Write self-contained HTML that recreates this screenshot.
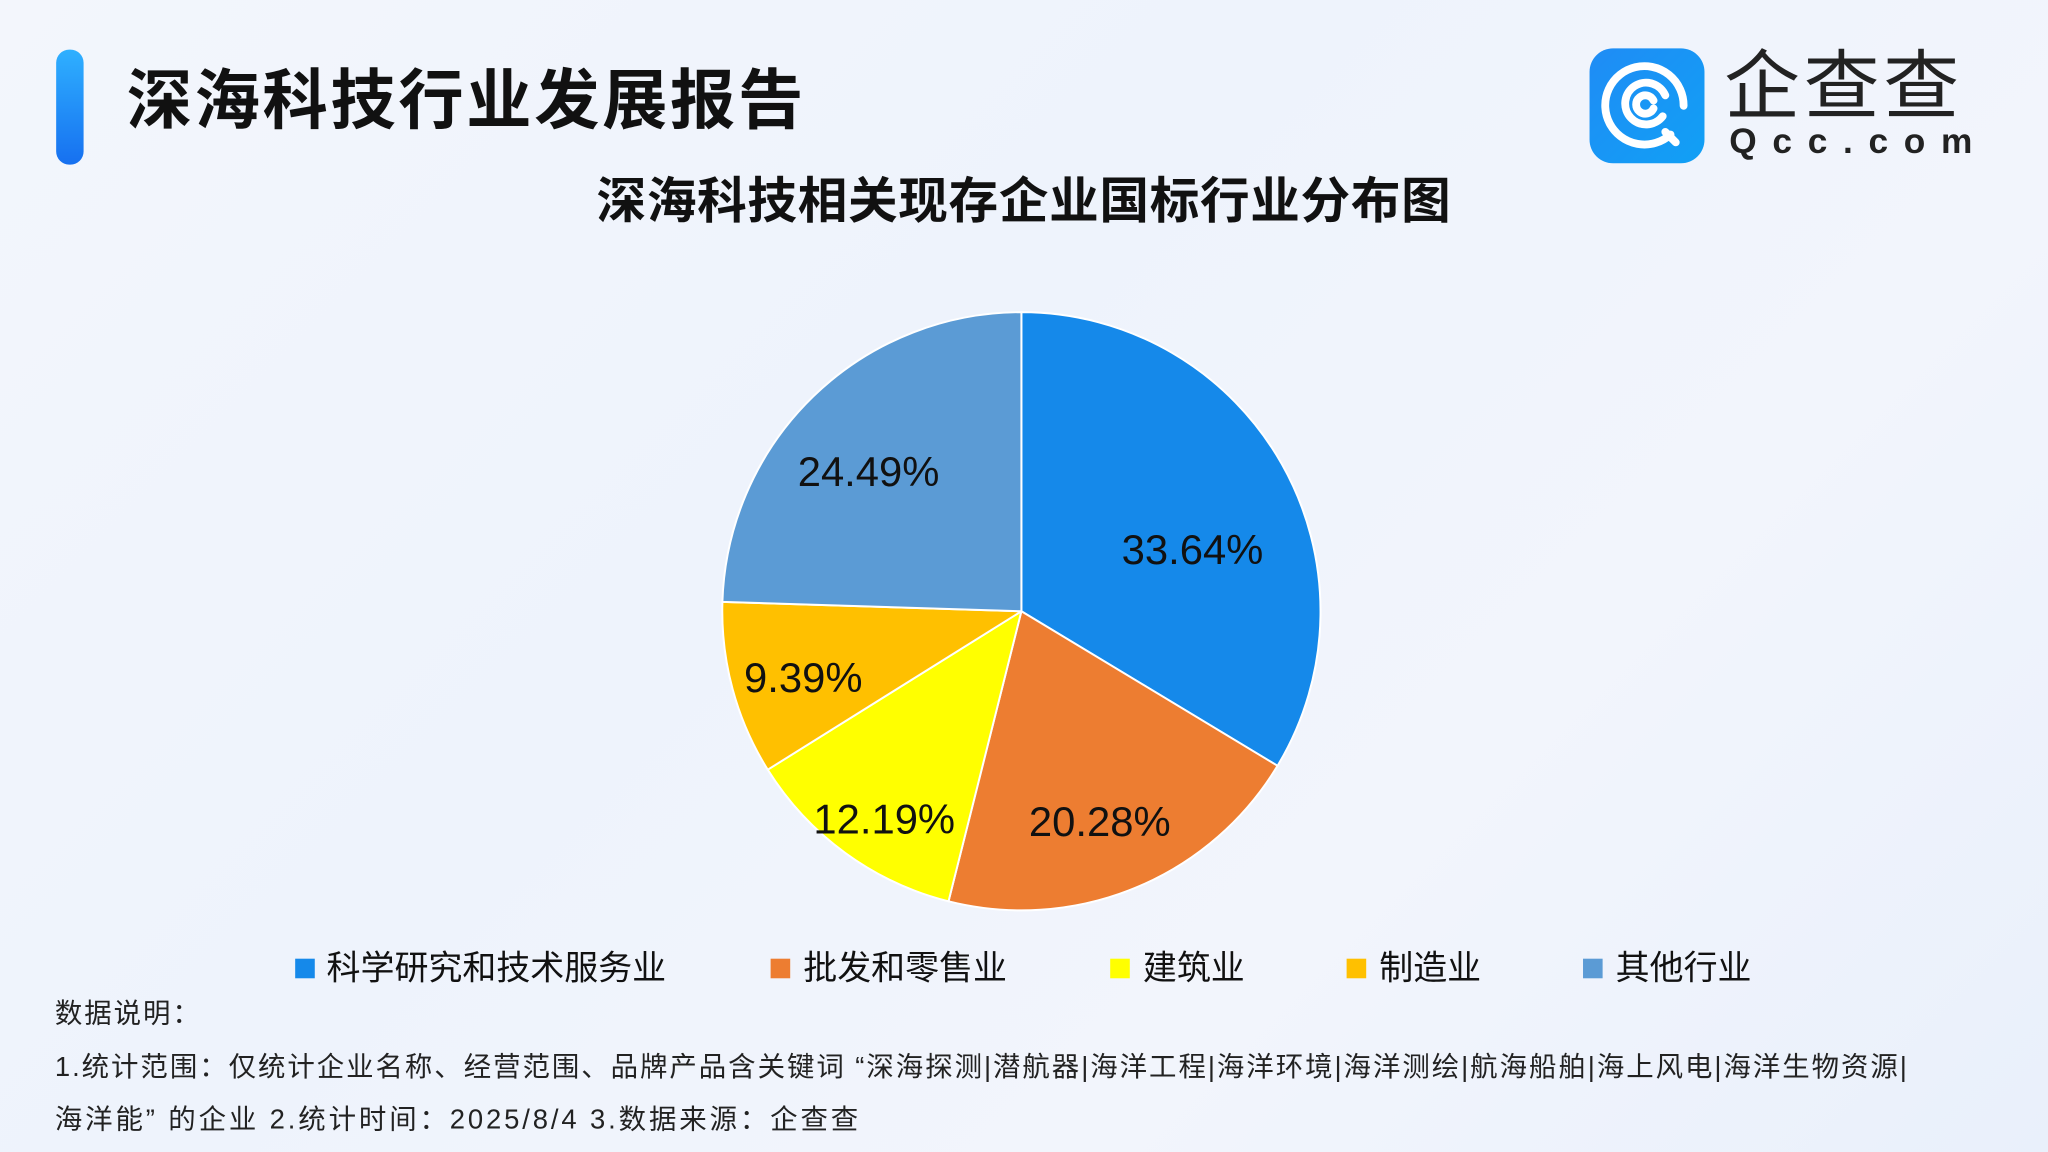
<!DOCTYPE html>
<html><head><meta charset="utf-8"><style>
html,body{margin:0;padding:0;width:2048px;height:1152px;overflow:hidden}
body{background:linear-gradient(135deg,#f3f6fc 0%,#eef3fc 40%,#f2f5fc 70%,#e9f0fb 100%);font-family:"Liberation Sans","Noto Sans CJK SC",sans-serif}
#w{position:absolute;left:0;top:0;width:1568px;height:882px;transform:scale(1.30612);transform-origin:0 0}
.a{position:absolute;white-space:nowrap;color:#111}
.sq{position:absolute;width:15px;height:15px}
.n{font-size:21px;line-height:26px;color:#222;letter-spacing:1.5px}
</style></head><body><div id="w">
<div style="position:absolute;left:43px;top:38px;width:21px;height:88px;border-radius:10px;background:linear-gradient(#2fb0ff,#1670f0)"></div>
<div class="a" style="left:97px;top:47px;font-size:50px;font-weight:bold;line-height:60px;letter-spacing:2px">深海科技行业发展报告</div>
<div style="position:absolute;left:1217px;top:37px;width:88px;height:88px;border-radius:18px;background:linear-gradient(135deg,#1f8cf5,#11a0f5)">
<svg width="88" height="88" viewBox="0 0 88 88"><g fill="none" stroke="#fff" stroke-width="6" stroke-linecap="round"><path d="M62 66 A30 30 0 1 1 72 44"/><path d="M56 52 A16 16 0 1 1 58 36"/><path d="M49 46 A7 7 0 1 1 49 40"/><path d="M58 64 L66 72"/></g></svg></div>
<div class="a" style="left:1320px;top:34px;font-size:58px;line-height:66px;color:#222;letter-spacing:3px">企查查</div>
<div class="a" style="left:1324px;top:93px;font-size:27px;line-height:30px;color:#222;letter-spacing:12px;font-weight:bold">Qcc.com</div>
<div class="a" style="left:0;width:1568px;text-align:center;top:132px;font-size:38px;font-weight:bold;line-height:46px;letter-spacing:0.5px">深海科技相关现存企业国标行业分布图</div>
<svg style="position:absolute;left:0;top:0" width="1568" height="882"><g stroke="#fff" stroke-width="1.5" stroke-linejoin="round">
<path d="M782 468 L782 239 A229 229 0 0 1 978.1 586.3Z" fill="#1589EA"/>
<path d="M782 468 L978.1 586.3 A229 229 0 0 1 726.2 690.1Z" fill="#ED7D31"/>
<path d="M782 468 L726.2 690.1 A229 229 0 0 1 587.8 589.3Z" fill="#FFFF00"/>
<path d="M782 468 L587.8 589.3 A229 229 0 0 1 553.1 460.8Z" fill="#FFC000"/>
<path d="M782 468 L553.1 460.8 A229 229 0 0 1 782 239Z" fill="#5B9BD5"/>
</g><g font-size="32" fill="#111" text-anchor="middle" font-family="Liberation Sans,sans-serif">
<text x="913" y="432">33.64%</text><text x="842" y="640">20.28%</text><text x="677" y="638">12.19%</text><text x="615" y="530">9.39%</text><text x="665" y="372">24.49%</text></g></svg>
<div class="sq" style="left:226px;top:734px;background:#1589EA"></div><div class="a" style="left:250px;top:725px;font-size:26px;line-height:32px">科学研究和技术服务业</div>
<div class="sq" style="left:590px;top:734px;background:#ED7D31"></div><div class="a" style="left:615px;top:725px;font-size:26px;line-height:32px">批发和零售业</div>
<div class="sq" style="left:850px;top:734px;background:#FFFF00"></div><div class="a" style="left:875px;top:725px;font-size:26px;line-height:32px">建筑业</div>
<div class="sq" style="left:1031px;top:734px;background:#FFC000"></div><div class="a" style="left:1056px;top:725px;font-size:26px;line-height:32px">制造业</div>
<div class="sq" style="left:1212px;top:734px;background:#5B9BD5"></div><div class="a" style="left:1237px;top:725px;font-size:26px;line-height:32px">其他行业</div>
<div class="a n" style="left:42px;top:764px">数据说明：</div>
<div class="a n" style="left:42px;top:805px">1.统计范围：仅统计企业名称、经营范围、品牌产品含关键词 “深海探测|潜航器|海洋工程|海洋环境|海洋测绘|航海船舶|海上风电|海洋生物资源|</div>
<div class="a n" style="left:42px;top:845px;letter-spacing:2.2px">海洋能” 的企业 2.统计时间：2025/8/4 3.数据来源：企查查</div>
</div></body></html>
